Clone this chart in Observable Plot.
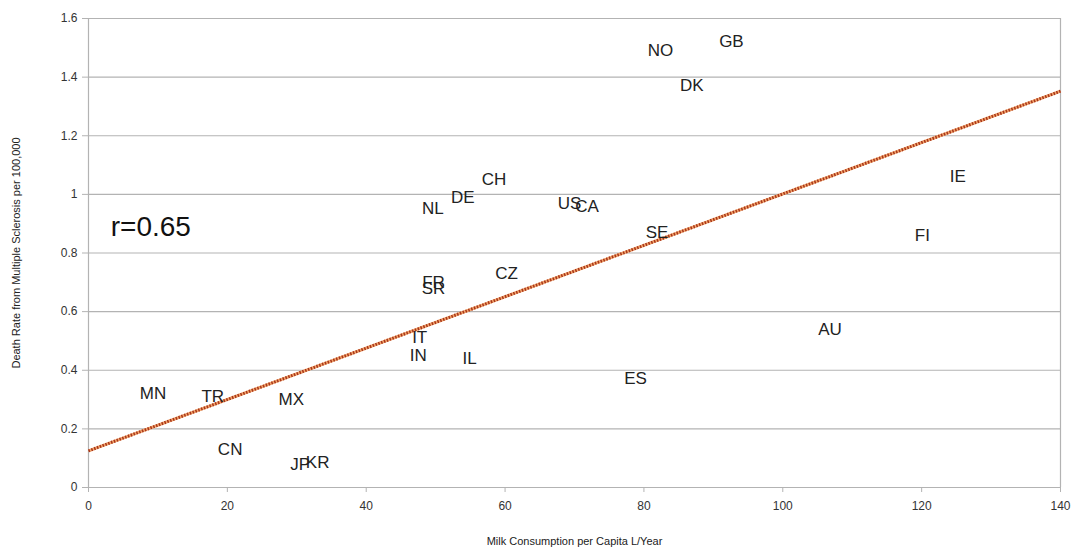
<!DOCTYPE html>
<html>
<head>
<meta charset="utf-8">
<script src="https://cdn.jsdelivr.net/npm/d3@7"></script>
<script src="https://cdn.jsdelivr.net/npm/@observablehq/plot@0.6"></script>
<style>
  html, body { margin: 0; padding: 0; background: #fff; }
  #chart svg { display: block; }
</style>
</head>
<body>
<div id="chart"></div>
<script>
// Country codes, milk consumption (L/year per capita), MS death rate per 100,000
const countries = ["MN","TR","MX","CN","JP","KR","FR","SR","IT","IN","IL","ES","AU","NO","DK","GB","CH","DE","NL","US","CA","SE","CZ","IE","FI"];
const milk      = [9.3, 17.9, 29.2, 20.4, 30.5, 33.0, 49.7, 49.7, 47.7, 47.5, 54.9, 78.8, 106.8, 82.4, 86.9, 92.6, 58.4, 53.9, 49.6, 69.3, 71.8, 81.9, 60.2, 125.2, 120.1];
const deathRate = [0.32, 0.31, 0.30, 0.13, 0.08, 0.085, 0.70, 0.68, 0.51, 0.45, 0.44, 0.37, 0.54, 1.49, 1.37, 1.52, 1.05, 0.99, 0.95, 0.97, 0.96, 0.87, 0.73, 1.06, 0.86];

// Trend line endpoints
const trendX = [0, 140];
const trendY = [0.125, 1.352];

// Ticks
const xTicks = [0, 20, 40, 60, 80, 100, 120, 140];
const yTicks = [0, 0.2, 0.4, 0.6, 0.8, 1, 1.2, 1.4, 1.6];

// Annotation
const annotationText = ["r=0.65"];
const annotationX = [3.2];
const annotationY = [0.887];

const points = countries.map((c, i) => ({code: c, x: milk[i], y: deathRate[i]}));
const trend = trendX.map((x, i) => ({x, y: trendY[i]}));
const annotation = annotationText.map((t, i) => ({t, x: annotationX[i], y: annotationY[i]}));

const gridColor = "#b3b3b3";

const chart = Plot.plot({
  width: 1074,
  height: 547,
  marginLeft: 88,
  marginRight: 14,
  marginTop: 18,
  marginBottom: 60,
  style: {fontFamily: "'Liberation Sans', Arial, sans-serif", background: "#fff"},
  x: {domain: [0, 140]},
  y: {domain: [0, 1.6]},
  marks: [
    Plot.gridY(yTicks, {stroke: gridColor, strokeOpacity: 1, strokeWidth: 1.2}),
    Plot.ruleX([0, 140], {stroke: gridColor, strokeWidth: 1.2}),
    Plot.axisY(yTicks, {
      tickSize: 6, tickPadding: 5, stroke: gridColor, fill: "#333", fontSize: 12,
      tickFormat: d => String(+d.toFixed(1)),
      label: "Death Rate from Multiple Sclerosis per 100,000",
      labelAnchor: "center", labelArrow: "none", labelOffset: 76
    }),
    Plot.axisX(xTicks, {
      tickSize: 5, tickPadding: 9, stroke: gridColor, fill: "#333", fontSize: 12,
      label: "Milk Consumption per Capita L/Year",
      labelAnchor: "center", labelArrow: "none", labelOffset: 57
    }),
    Plot.line(trend, {x: "x", y: "y", stroke: "#f2a56c", strokeWidth: 3, strokeLinecap: "butt"}),
    Plot.line(trend, {x: "x", y: "y", stroke: "#a8361a", strokeWidth: 3, strokeLinecap: "butt", strokeDasharray: "1.5,1.5"}),
    Plot.text(points, {x: "x", y: "y", text: "code", fontSize: 17, fill: "#222"}),
    Plot.text(annotation, {x: "x", y: "y", text: "t", fontSize: 28, fill: "#111", textAnchor: "start"})
  ]
});

// axis label font sizes
chart.querySelectorAll("[aria-label='y-axis label'], [aria-label='x-axis label']").forEach(g => {
  g.setAttribute("font-size", "11");
  g.setAttribute("fill", "#222");
});

document.getElementById("chart").appendChild(chart);
</script>
</body>
</html>
